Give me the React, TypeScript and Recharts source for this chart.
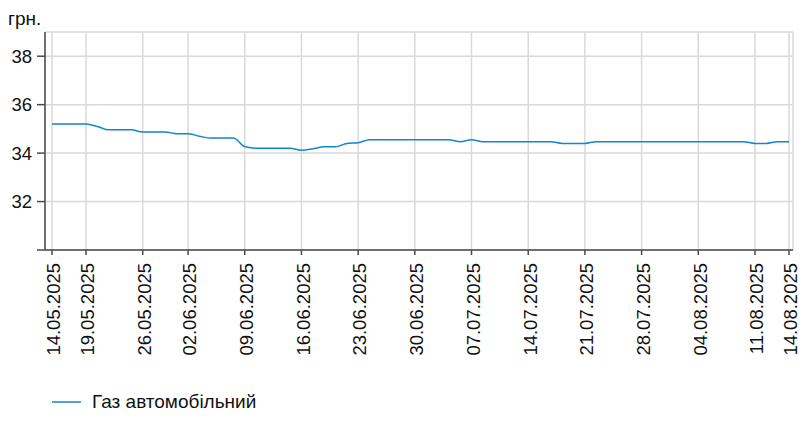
import React from 'react';
import { CartesianGrid, Legend, Line, LineChart, XAxis, YAxis } from 'recharts';

// weekdays only, one value per trading day
const dates = [
  '14.05.2025', '15.05.2025', '16.05.2025', '19.05.2025', '20.05.2025', '21.05.2025', '22.05.2025', '23.05.2025',
  '26.05.2025', '27.05.2025', '28.05.2025', '29.05.2025', '02.06.2025', '03.06.2025', '04.06.2025', '05.06.2025',
  '06.06.2025', '09.06.2025', '10.06.2025', '11.06.2025', '12.06.2025', '13.06.2025', '16.06.2025', '17.06.2025',
  '18.06.2025', '19.06.2025', '20.06.2025', '23.06.2025', '24.06.2025', '25.06.2025', '26.06.2025', '27.06.2025',
  '30.06.2025', '01.07.2025', '02.07.2025', '03.07.2025', '04.07.2025', '07.07.2025', '08.07.2025', '09.07.2025',
  '10.07.2025', '11.07.2025', '14.07.2025', '15.07.2025', '16.07.2025', '17.07.2025', '18.07.2025', '21.07.2025',
  '22.07.2025', '23.07.2025', '24.07.2025', '25.07.2025', '28.07.2025', '29.07.2025', '30.07.2025', '31.07.2025',
  '01.08.2025', '04.08.2025', '05.08.2025', '06.08.2025', '07.08.2025', '08.08.2025', '11.08.2025', '12.08.2025',
  '13.08.2025', '14.08.2025',
];

const prices = [
  35.2, 35.2, 35.2, 35.2, 35.1, 34.96, 34.96, 34.96,
  34.87, 34.87, 34.87, 34.8, 34.8, 34.7, 34.62, 34.62,
  34.62, 34.27, 34.2, 34.2, 34.2, 34.2, 34.12, 34.18,
  34.26, 34.26, 34.4, 34.43, 34.55, 34.55, 34.55, 34.55,
  34.55, 34.55, 34.55, 34.55, 34.47, 34.55, 34.47, 34.47,
  34.47, 34.47, 34.47, 34.47, 34.47, 34.4, 34.4, 34.4,
  34.47, 34.47, 34.47, 34.47, 34.47, 34.47, 34.47, 34.47,
  34.47, 34.47, 34.47, 34.47, 34.47, 34.47, 34.4, 34.4,
  34.47, 34.47,
];

const tickLabels = [
  '14.05.2025', '19.05.2025', '26.05.2025', '02.06.2025', '09.06.2025', '16.06.2025', '23.06.2025',
  '30.06.2025', '07.07.2025', '14.07.2025', '21.07.2025', '28.07.2025', '04.08.2025', '11.08.2025', '14.08.2025',
];

const yTicks = [30, 32, 34, 36, 38];

const data = dates.map((date, i) => ({ idx: i, date, price: prices[i] }));
const xTicks = tickLabels.map((t) => dates.indexOf(t));

const FONT = '"Liberation Sans", Arial, sans-serif';
const LINE_COLOR = '#1187c9';
const AXIS_COLOR = '#4a4a4a';

const DateTick = ({ x, y, payload }: any) => (
  <text
    transform={`translate(${x},${y + 6}) rotate(-90)`}
    textAnchor="end"
    dy="0.45em"
    fontSize={18.5}
    fontFamily={FONT}
    fill="#111"
  >
    {dates[payload.value]}
  </text>
);

const LegendContent = () => (
  <div style={{ display: 'flex', alignItems: 'center', fontFamily: FONT, fontSize: 19, color: '#111', lineHeight: '22px' }}>
    <svg width={29} height={4} style={{ marginRight: 11 }}>
      <line x1={0} y1={2} x2={29} y2={2} stroke={LINE_COLOR} strokeWidth={1.5} />
    </svg>
    <span>Газ автомобільний</span>
  </div>
);

export default function App() {
  return (
    <LineChart
      width={798}
      height={416}
      data={data}
      margin={{ top: 24, right: 13, left: 0, bottom: 42 }}
    >
      <CartesianGrid stroke="#d9d9d9" strokeWidth={1.5} />
      <XAxis
        dataKey="idx"
        type="number"
        domain={[0, dates.length - 1]}
        ticks={xTicks}
        interval={0}
        padding={{ left: 7, right: 4 }}
        height={110}
        tickSize={5}
        stroke={AXIS_COLOR}
        strokeWidth={1.5}
        tick={<DateTick />}
      />
      <YAxis
        domain={[30, 39]}
        ticks={yTicks}
        width={37}
        tickSize={8}
        tickMargin={5}
        stroke={AXIS_COLOR}
        strokeWidth={1.5}
        tick={{ fontSize: 18.5, fontFamily: FONT, fill: '#111' }}
        tickFormatter={(v: number) => (v === 30 ? '' : String(v))}
        label={{
          content: () => (
            <text x={0} y={17} fontSize={19} fontFamily={FONT} fill="#111">
              грн.
            </text>
          ),
        }}
      />
      <Legend
        verticalAlign="bottom"
        content={<LegendContent />}
        wrapperStyle={{ left: 44, top: 383, width: 'auto' }}
      />
      <Line
        type="monotone"
        dataKey="price"
        name="Газ автомобільний"
        stroke={LINE_COLOR}
        strokeWidth={1.5}
        dot={false}
        activeDot={false}
        isAnimationActive={false}
      />
    </LineChart>
  );
}
